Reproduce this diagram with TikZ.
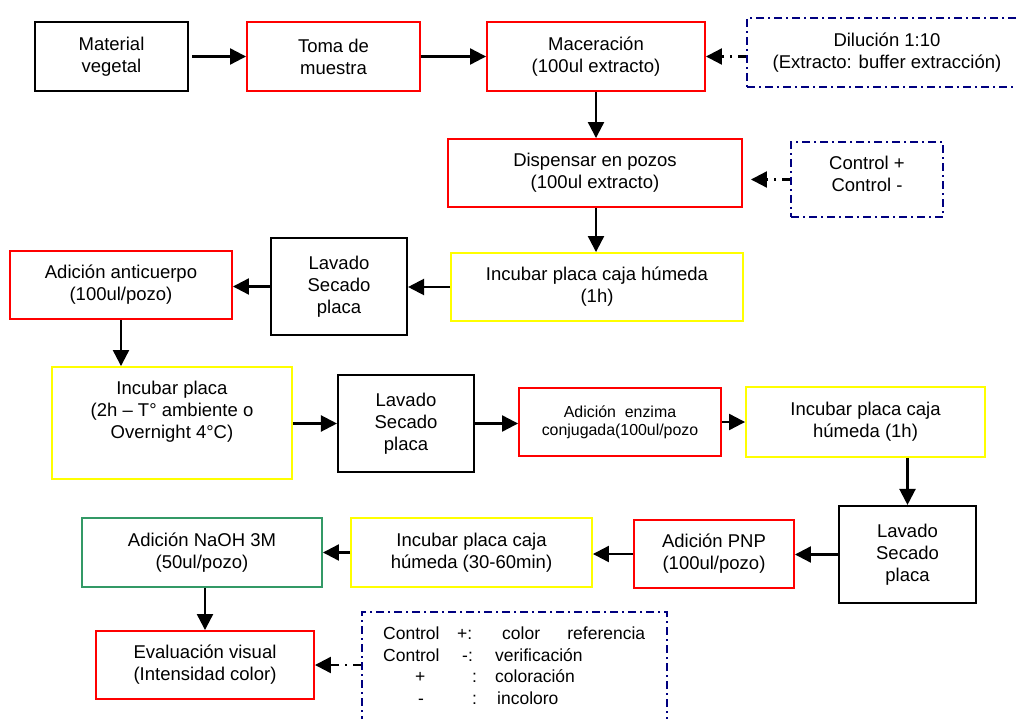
\documentclass[tikz,border=0pt]{standalone}
\usepackage{fontspec}
\setmainfont{Liberation Sans}
\usetikzlibrary{arrows.meta}
\definecolor{boxred}{RGB}{255,0,0}
\definecolor{boxyellow}{RGB}{255,255,0}
\definecolor{boxgreen}{RGB}{51,153,102}
\definecolor{navyline}{RGB}{0,0,128}
\begin{document}
\begin{tikzpicture}[x=1pt,y=-1pt,
  box/.style={draw, line width=1.9pt, align=center, inner sep=0pt, font=\fontsize{18.5}{22}\selectfont},
  txt/.style={align=center, inner sep=0pt, font=\fontsize{18.5}{22}\selectfont},
  blackbox/.style={box, draw=black, line width=2.1pt},
  redbox/.style={box, draw=boxred},
  yellowbox/.style={box, draw=boxyellow},
  greenbox/.style={box, draw=boxgreen},
  dashdot/.style={draw=navyline, line width=1.8pt, dash pattern=on 8pt off 4pt on 2pt off 4pt},
  note/.style={box, dashdot},
  arr/.style={line width=2.2pt, -{Triangle[length=16pt,width=16pt]}},
  noteconn/.style={line width=2.2pt, dash pattern=on 8pt off 6pt on 2pt off 6pt, -{Triangle[length=16pt,width=16pt]}},
  sz/.style 2 args={minimum width=#1pt, minimum height=#2pt}]
\useasboundingbox (0,0) rectangle (1017,719);
\clip (0,0) rectangle (1017,719);
\fill[white] (0,0) rectangle (1017,719);
% boxes
\node[blackbox, sz={153}{69}] (mat) at (111.5,56.5) {Material\\vegetal};
\node[redbox, sz={173}{69}] (toma) at (333.5,56.5) {Toma de\\muestra};
\node[redbox, sz={218}{69}] (mac) at (596,56.5) {Maceración\\(100ul extracto)};
\node[note, sz={280}{69}] (dil) at (887,52.5) {Dilución 1:10\\(Extracto: buffer extracción)};
\node[redbox, sz={294}{68}] (disp) at (595,173) {Dispensar en pozos\\(100ul extracto)};
\node[note, sz={152}{75}] (ctrl) at (867,179.5) {};
\node[txt] (ctrltxt) at (867,173.5) {Control +\\Control -};
\node[yellowbox, sz={292}{68}] (inc1) at (597,287) {Incubar placa caja húmeda\\(1h)};
\node[blackbox, sz={136}{97}] (lav1) at (339,286.5) {Lavado\\Secado\\placa};
\node[redbox, sz={222}{68}] (anti) at (121,285) {Adición anticuerpo\\(100ul/pozo)};
\node[yellowbox, sz={240}{112}] (inc2) at (172,423) {};
\node[txt] (inc2txt) at (172,412) {Incubar placa\\(2h – T° ambiente o\\Overnight 4°C)};
\node[blackbox, sz={136}{97}] (lav2) at (406,423.5) {Lavado\\Secado\\placa};
\node[redbox, sz={202}{68}, font=\fontsize{15.9}{18}\selectfont] (enz) at (620,422) {Adición\ \ enzima\\conjugada(100ul/pozo};
\node[yellowbox, sz={239}{70}] (inc3) at (865.5,422) {Incubar placa caja\\húmeda (1h)};
\node[blackbox, sz={137}{97}] (lav3) at (907.5,554.5) {Lavado\\Secado\\placa};
\node[redbox, sz={160}{68}] (pnp) at (714,554) {Adición PNP\\(100ul/pozo)};
\node[yellowbox, sz={241}{69}] (inc4) at (471.5,552.5) {Incubar placa caja\\húmeda (30-60min)};
\node[greenbox, sz={240}{69}] (naoh) at (202,552.5) {Adición NaOH 3M\\(50ul/pozo)};
\node[redbox, sz={218}{68}] (eval) at (205,665) {Evaluación visual\\(Intensidad color)};
\node[note, sz={305}{150}] (leg) at (514.5,687) {};
\node[anchor=north west, inner sep=0pt, align=left, font=\fontsize{17.5}{21.7}\selectfont] (legtxt) at (383,626.5) {%
\makebox[65pt][l]{Control}\makebox[47pt][l]{\hspace*{9pt}+:}\makebox[150pt][l]{\hspace*{7pt}color\hfill referencia}\\
\makebox[65pt][l]{Control}\makebox[47pt][l]{\hspace*{14pt}-:}\makebox[150pt][l]{verificación}\\
\makebox[65pt][l]{\hspace*{32pt}+}\makebox[47pt][l]{\hspace*{24pt}:}\makebox[150pt][l]{coloración}\\
\makebox[65pt][l]{\hspace*{35pt}-}\makebox[47pt][l]{\hspace*{24pt}:}\makebox[150pt][l]{\hspace*{2pt}incoloro}};
% connectors
\draw[arr] ([xshift=3pt]mat.east) -- (toma.west);
\draw[arr] (toma) -- (mac);
\draw[noteconn] (dil.west |- mac.east) -- (mac.east);
\draw[arr] (mac.south) -- (mac.south |- disp.north);
\draw[noteconn] (ctrl.west) -- ([xshift=8pt]disp.east |- ctrl.west);
\draw[arr] (disp.south -| mac.south) -- (inc1.north -| mac.south);
\draw[arr] (inc1.west) -- (lav1.east |- inc1.west);
\draw[arr] (lav1.west) -- (anti.east |- lav1.west);
\draw[arr] (anti.south) -- (anti.south |- inc2.north);
\draw[arr] (inc2.east |- lav2.west) -- (lav2.west);
\draw[arr] (lav2.east) -- (enz.west |- lav2.east);
\draw[arr] (enz.east) -- (inc3.west |- enz.east);
\draw[arr] (lav3.north |- inc3.south) -- (lav3.north);
\draw[arr] (lav3.west) -- (pnp.east |- lav3.west);
\draw[arr] (pnp.west) -- (inc4.east |- pnp.west);
\draw[arr] (inc4.west) -- (naoh.east |- inc4.west);
\draw[arr] (eval.north |- naoh.south) -- (eval.north);
\draw[noteconn] (leg.west |- eval.east) -- (eval.east);
\end{tikzpicture}
\end{document}
